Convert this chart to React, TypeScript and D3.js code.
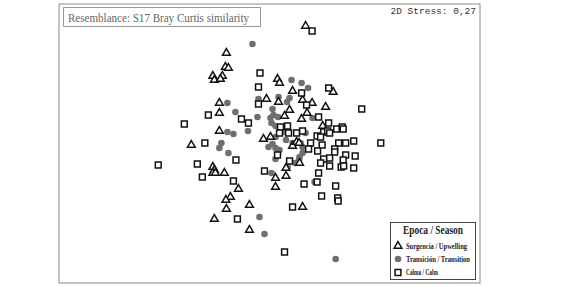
import React from "react";
import * as d3 from "d3";

// nMDS coordinates (MDS1, MDS2)
const surgencia: [number, number][] = [
  [0.36, 1.175], [-0.43, 0.905], [-0.44, 0.765], [-0.41, 0.755], [-0.565, 0.675],
  [-0.55, 0.635], [-0.47, 0.675], [-0.49, 0.645], [0.08, 0.645], [0.1, 0.605],
  [0.23, 0.525], [0.635, 0.515], [-0.03, 0.445], [0.09, 0.415], [0.33, 0.435],
  [0.425, 0.405], [0.56, 0.365], [-0.5, 0.405], [-0.5, 0.305], [0.2, 0.335],
  [0.375, 0.305], [0.15, 0.275], [0.32, 0.245], [-0.5, 0.125], [0.53, 0.175],
  [-0.78, -0.015], [-0.06, 0.045], [0.01, 0.065], [0.23, -0.025], [0.27, 0.015],
  [0.295, 0.005], [-0.565, -0.235], [-0.55, -0.265], [-0.565, -0.295], [-0.54, -0.295],
  [-0.45, -0.295], [0.3, -0.195], [0.165, -0.245], [0.06, -0.345], [0.165, -0.325],
  [0.06, -0.435], [-0.31, -0.455], [-0.39, -0.535], [-0.435, -0.565], [-0.2, -0.615],
  [-0.43, -0.655], [0.33, -0.635], [-0.55, -0.755], [-0.2, -0.865],
];

const transicion: [number, number][] = [
  [-0.17, 0.995], [0.22, 0.635], [0.32, 0.605], [0.385, 0.555], [-0.11, 0.445],
  [0.09, 0.465], [0.2, 0.455], [0.175, 0.415], [-0.42, 0.405], [-0.34, 0.315],
  [0.03, 0.345], [-0.12, 0.265], [0.01, 0.255], [0.04, 0.285], [0.085, 0.265],
  [0.43, 0.255], [0.02, 0.205], [0.06, 0.175], [-0.42, 0.115], [-0.36, 0.095],
  [-0.215, 0.125], [0.13, 0.115], [0.36, 0.105], [0.06, 0.065], [0.165, 0.035],
  [-0.48, 0.005], [-0.5, -0.045], [-0.01, -0.035], [0.03, -0.005], [0.06, -0.045],
  [0.1, -0.065], [0.23, 0.005], [0.31, 0.005], [0.33, -0.035], [-0.41, -0.095],
  [0.33, -0.095], [0.3, -0.135], [0.295, -0.165], [0.085, -0.105], [0.06, -0.155],
  [0.18, -0.235], [0.255, -0.195], [0.02, -0.295], [0.45, -0.385], [-0.1, -0.735],
  [-0.05, -0.905], [0.66, -1.155],
];

const calma: [number, number][] = [
  [0.425, 1.125], [-0.095, 0.705], [-0.11, 0.565], [-0.11, 0.395], [0.32, 0.505],
  [0.59, 0.555], [0.37, 0.385], [0.92, 0.345], [-0.61, 0.285], [-0.28, 0.245],
  [-0.21, 0.205], [0.49, 0.265], [-0.85, 0.195], [0.11, 0.165], [0.18, 0.175],
  [0.1, 0.105], [0.19, 0.105], [0.27, 0.105], [0.33, 0.125], [0.59, 0.205],
  [0.54, 0.115], [0.58, 0.125], [0.6, 0.105], [0.67, 0.145], [0.725, 0.165],
  [0.735, 0.145], [0.475, 0.075], [0.51, 0.065], [0.41, 0.005], [0.525, -0.015],
  [0.39, -0.055], [0.48, -0.075], [0.69, 0.005], [0.76, 0.005], [0.84, 0.025],
  [1.11, 0.005], [-0.645, 0.005], [0.65, -0.055], [0.65, -0.085], [0.76, -0.115],
  [0.855, -0.125], [0.08, -0.115], [0.54, -0.155], [0.51, -0.195], [0.6, -0.145],
  [0.6, -0.225], [0.735, -0.165], [0.715, -0.235], [0.74, -0.225], [0.84, -0.245],
  [0.2, -0.175], [-0.335, -0.165], [-1.11, -0.215], [-0.72, -0.205], [-0.67, -0.335],
  [-0.05, -0.275], [0.49, -0.295], [-0.36, -0.375], [0.475, -0.385], [0.345, -0.405],
  [0.66, -0.425], [0.52, -0.525], [0.68, -0.545], [0.685, -0.575], [0.23, -0.635],
  [-0.32, -0.755], [0.15, -1.085],
];

const legendLabels = ["Surgencia / Upwelling", "Transición / Transition", "Calma / Calm"];

const W = 567;
const H = 287;
const frame = { x0: 59, x1: 480, y0: 4, y1: 283 };

export default function App() {
  const x = d3.scaleLinear().domain([-2.1, 2.1]).range([frame.x0, frame.x1]);
  const y = d3.scaleLinear().domain([-1.395, 1.395]).range([frame.y1, frame.y0]);

  const tri = d3.symbol().type(d3.symbolTriangle).size(26)() as string;
  const sq = d3.symbol().type(d3.symbolSquare).size(34)() as string;
  const serif = "'Liberation Serif', 'DejaVu Serif', serif";

  return (
    <svg width={W} height={H} style={{ position: "absolute", left: 0, top: 0 }}>
      <rect width={W} height={H} fill="#fff" />
      <rect
        x={frame.x0}
        y={frame.y0}
        width={frame.x1 - frame.x0}
        height={frame.y1 - frame.y0}
        fill="none"
        stroke="#8a8a8a"
        strokeWidth={1}
      />
      {/* title box */}
      <rect x={63.5} y={7.5} width={197} height={19} fill="#fff" stroke="#9a9a9a" strokeWidth={1} />
      <text x={68} y={21.5} fontFamily={serif} fontSize={12} fill="#666" textLength={181} lengthAdjust="spacingAndGlyphs">
        Resemblance: S17 Bray Curtis similarity
      </text>
      <text
        x={476}
        y={14}
        textAnchor="end"
        fontFamily="'Liberation Mono', 'DejaVu Sans Mono', monospace"
        fontSize={9.5}
        fill="#333"
      >
        2D Stress: 0,27
      </text>

      {/* points */}
      {transicion.map((d, i) => (
        <circle key={"c" + i} cx={x(d[0])} cy={y(d[1])} r={3.3} fill="#6f6f6f" />
      ))}
      {surgencia.map((d, i) => (
        <path
          key={"t" + i}
          d={tri}
          transform={`translate(${x(d[0])},${y(d[1])})`}
          fill="#fff"
          stroke="#111"
          strokeWidth={1.5}
        />
      ))}
      {calma.map((d, i) => (
        <path
          key={"s" + i}
          d={sq}
          transform={`translate(${x(d[0])},${y(d[1])})`}
          fill="#fff"
          stroke="#111"
          strokeWidth={1.5}
        />
      ))}

      {/* legend */}
      <rect x={390.5} y={222.5} width={85} height={57} fill="#fff" stroke="#444" strokeWidth={1} />
      <text x={433} y={234} textAnchor="middle" fontFamily={serif} fontWeight="bold" fontSize={11.5} fill="#222" textLength={60} lengthAdjust="spacingAndGlyphs">
        Epoca / Season
      </text>
      <path d={tri} transform="translate(398,246)" fill="#fff" stroke="#111" strokeWidth={1.5} />
      <circle cx={398} cy={259} r={3.3} fill="#6f6f6f" />
      <path d={sq} transform="translate(398,272.5)" fill="#fff" stroke="#111" strokeWidth={1.5} />
      {legendLabels.map((l, i) => (
        <text
          key={l}
          x={406}
          y={248.5 + i * 13.3}
          fontFamily={serif}
          fontWeight="bold"
          fontSize={8.5}
          fill="#222"
          textLength={[61, 64, 32][i]}
          lengthAdjust="spacingAndGlyphs"
        >
          {l}
        </text>
      ))}
    </svg>
  );
}
